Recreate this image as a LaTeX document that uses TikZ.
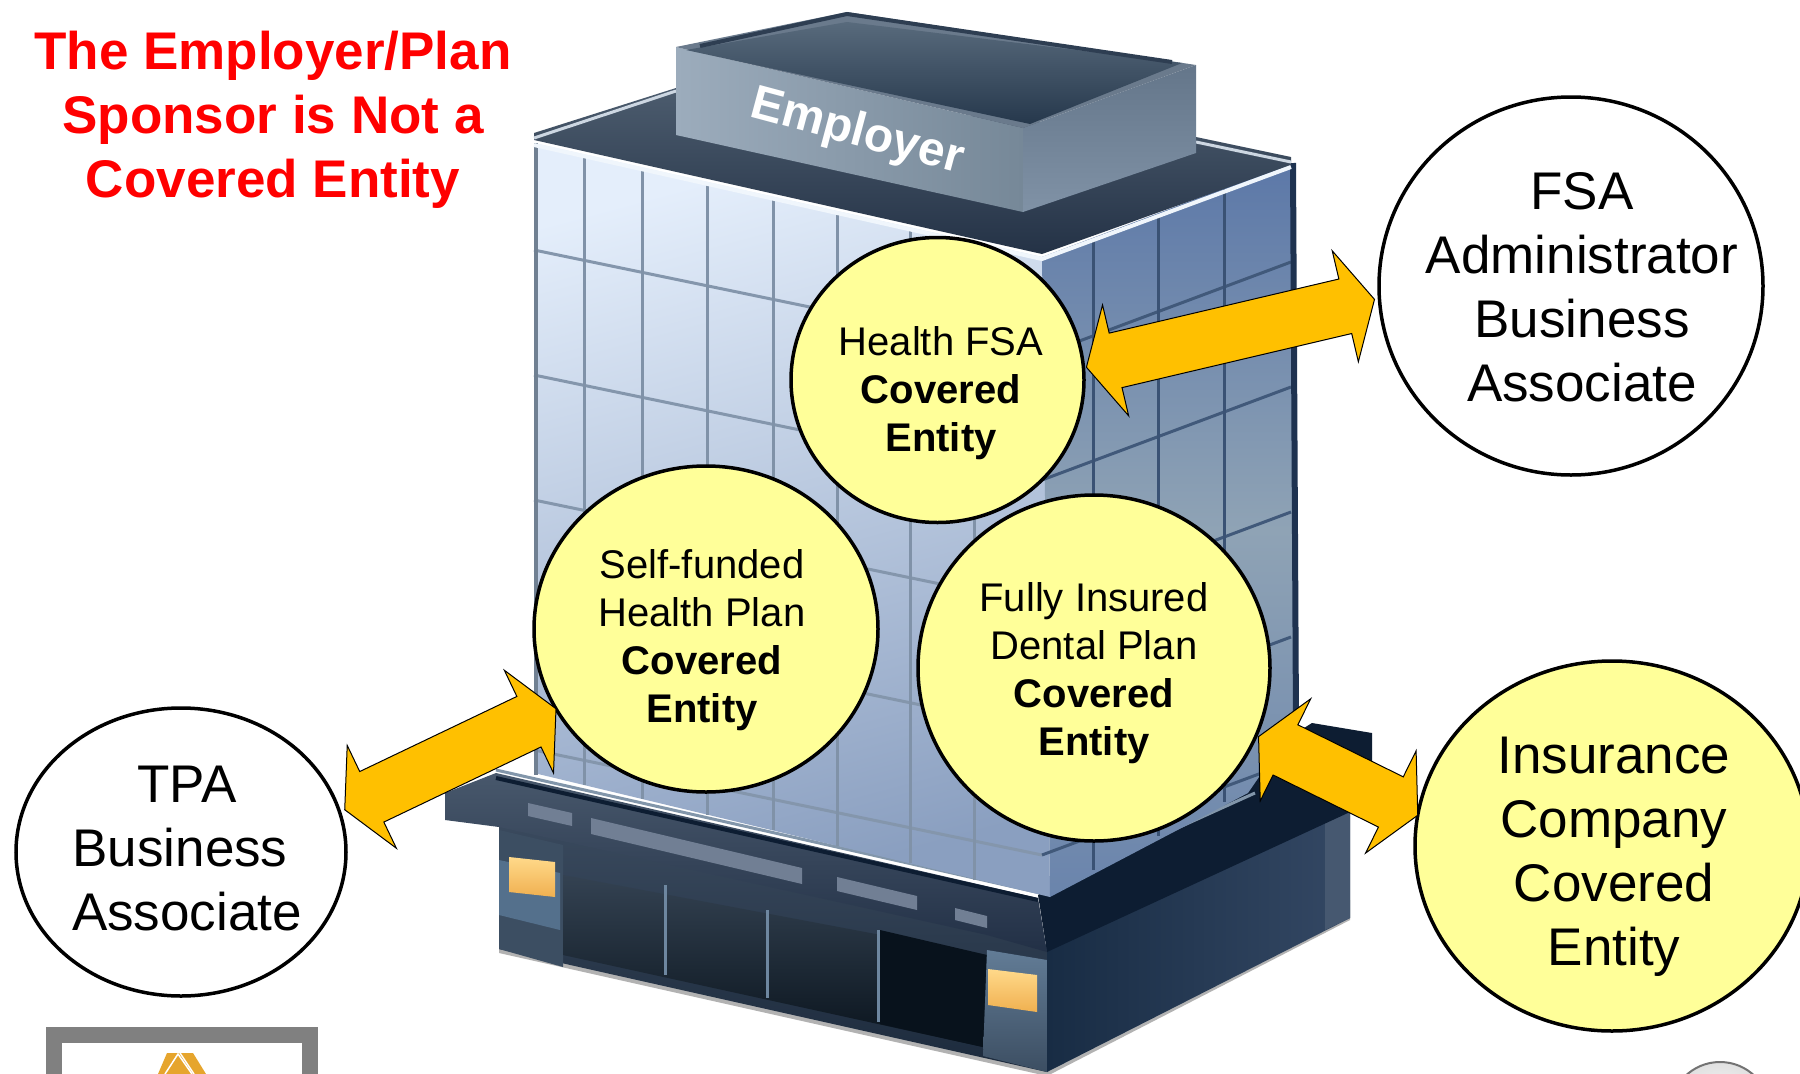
\documentclass[tikz,border=0pt]{standalone}
\usepackage{fontspec}
\setmainfont{Liberation Sans}
\usetikzlibrary{shapes.geometric,calc}
\definecolor{arrowgold}{HTML}{FFC000}
\definecolor{paleyellow}{HTML}{FFFF99}
\definecolor{navyA}{HTML}{3A4A5E}
\definecolor{navyB}{HTML}{1C2A3C}
\definecolor{pilA}{HTML}{54708C}
\definecolor{pilB}{HTML}{3C4E62}
\definecolor{pilC}{HTML}{627C96}
\definecolor{doorA}{HTML}{344252}
\definecolor{doorB}{HTML}{09131C}
\definecolor{doorC}{HTML}{08121C}
\definecolor{mullD}{HTML}{6E87A0}
\definecolor{sideA}{HTML}{182C44}
\definecolor{sideB}{HTML}{344864}
\definecolor{sideC}{HTML}{465870}
\definecolor{ledgeD}{HTML}{0D1D32}
\definecolor{ledgeA}{HTML}{48586C}
\definecolor{ledgeB}{HTML}{223046}
\definecolor{ledgeL}{HTML}{8296AA}
\definecolor{stripeA}{HTML}{717F94}
\definecolor{lampA}{HTML}{FFD98A}
\definecolor{lampB}{HTML}{F0B050}
\definecolor{faceLA}{HTML}{E4EEFB}
\definecolor{faceLB}{HTML}{8A9FC0}
\definecolor{faceRA}{HTML}{5C78A8}
\definecolor{faceRM}{HTML}{8FA3B5}
\definecolor{faceRB}{HTML}{6A84AC}
\definecolor{bandL}{HTML}{8496AC}
\definecolor{bandR}{HTML}{41597A}
\definecolor{mullL}{HTML}{8092A8}
\definecolor{mullR}{HTML}{3A5274}
\definecolor{edgeL}{HTML}{708092}
\definecolor{edgeR}{HTML}{1E3250}
\definecolor{roofA}{HTML}{4C5C6E}
\definecolor{roofB}{HTML}{243246}
\definecolor{roofW}{HTML}{F0F6FC}
\definecolor{roofG}{HTML}{CDD7E2}
\definecolor{penLA}{HTML}{9CACBC}
\definecolor{penLB}{HTML}{768898}
\definecolor{penRA}{HTML}{64768A}
\definecolor{penRB}{HTML}{8092A6}
\definecolor{penT}{HTML}{6A7A8C}
\definecolor{penWA}{HTML}{586A7C}
\definecolor{penWB}{HTML}{26384C}
\definecolor{penE}{HTML}{2E3E52}
\definecolor{frameG}{HTML}{808080}
\definecolor{logoO}{HTML}{E6A52D}
\tikzset{
  x=1pt,y=-1pt,
  bubble/.style={ellipse,draw=black,line width=3.5pt,inner sep=0pt,outer sep=0pt},
  yellowbubble/.style={bubble,fill=paleyellow},
  whitebubble/.style={bubble,fill=white},
  smalltext/.style={align=center,inner sep=0pt,font=\fontsize{40}{48}\selectfont},
  bigtext/.style={align=center,inner sep=0pt,font=\fontsize{53}{64}\selectfont},
  titletext/.style={align=center,inner sep=0pt,text=red,font=\fontsize{53}{64}\selectfont\bfseries},
  bigarrow/.style={draw=black,line width=1pt,fill=arrowgold,line join=miter,miter limit=10},
  mullion/.style={line width=3pt,draw=#1},
  band/.style={line width=3pt,draw=#1},
}
\newcommand{\dblarrow}[2]{%
  \draw[bigarrow] (#1)
  -- ($(#1)!30pt!(#2)!57pt!90:(#2)$)
  -- ($(#1)!30pt!(#2)!28pt!90:(#2)$)
  -- ($(#2)!30pt!(#1)!28pt!-90:(#1)$)
  -- ($(#2)!30pt!(#1)!57pt!-90:(#1)$)
  -- (#2)
  -- ($(#2)!30pt!(#1)!57pt!90:(#1)$)
  -- ($(#2)!30pt!(#1)!28pt!90:(#1)$)
  -- ($(#1)!30pt!(#2)!28pt!-90:(#2)$)
  -- ($(#1)!30pt!(#2)!57pt!-90:(#2)$)
  -- cycle;}
\begin{document}
\begin{tikzpicture}
\useasboundingbox (0,0) rectangle (1800,1074);
\clip (0,0) rectangle (1800,1074);
\fill[white] (0,0) rectangle (1800,1074);

% ---------- base of the building
\fill[black!30] (499,953) -- (1047,1076) -- (1350,920) -- (1350,900) -- (1047,1060) -- (499,935) -- cycle;
\shade[top color=navyA,bottom color=navyB] (499,820) -- (1047,945) -- (1047,1072) -- (499,949) -- cycle;
\fill[pilB] (499,830) -- (563,845) -- (563,967) -- (499,949) -- cycle;
\fill[pilA] (499,860) -- (560,873) -- (560,930) -- (499,915) -- cycle;
\shade[top color=doorA,bottom color=doorB] (563,875) -- (987,955) -- (983,1047) -- (563,955) -- cycle;
\fill[doorC] (880,930) -- (987,955) -- (983,1047) -- (880,1024) -- cycle;
\draw[mullion=mullD] (665,885) -- (665,975);
\draw[mullion=mullD] (767,910) -- (767,998);
\draw[mullion=mullD] (878,930) -- (878,1022);
\shade[top color=pilC,bottom color=pilB] (987,950) -- (1047,960) -- (1047,1072) -- (983,1056) -- cycle;
\shade[left color=sideA,right color=sideB] (1047,945) -- (1350,800) -- (1350,918) -- (1047,1072) -- cycle;
\fill[sideC] (1325,800) -- (1350,800) -- (1350,918) -- (1325,930) -- cycle;
% ledge
\fill[ledgeD] (1038,895) -- (1312,723) -- (1372,733) -- (1372,765) -- (1350,812) -- (1047,952) -- cycle;
\shade[top color=ledgeA,bottom color=ledgeB] (445,793) -- (496,773) -- (1038,898) -- (1047,952) -- (987,935) -- (499,827) -- (445,820) -- cycle;
\draw[line width=4pt,ledgeD] (496,778) -- (1038,900);
\draw[line width=3pt,ledgeL] (496,770) -- (1036,892) -- (1255,793);
\fill[stripeA] (528,803) -- (572,813) -- (572,826) -- (528,816) -- cycle;
\fill[stripeA] (591,818) -- (802,868) -- (802,884) -- (591,834) -- cycle;
\fill[stripeA] (837,877) -- (917,896) -- (917,910) -- (837,891) -- cycle;
\fill[stripeA] (955,908) -- (987,916) -- (987,928) -- (955,920) -- cycle;
% lamps
\shade[top color=lampA,bottom color=lampB] (509,857) -- (555,862) -- (555,897) -- (509,892) -- cycle;
\shade[top color=lampA,bottom color=lampB] (988,969) -- (1037,975) -- (1037,1012) -- (988,1005) -- cycle;

% ---------- tower faces
\shade[top color=faceLA,bottom color=faceLB,shading angle=15] (534,143) -- (1042,257) -- (1050,897) -- (534,773) -- cycle;
\shade[top color=faceRA,bottom color=faceRB,middle color=faceRM] (1042,257) -- (1291,163) -- (1296,723) -- (1248,793) -- (1050,897) -- cycle;
% horizontal bands, left and right
\foreach \k in {0,...,4}{
  \draw[band=bandL] (534,250+125*\k) -- (1042,355+125*\k);
  \draw[band=bandR] (1042,355+125*\k) -- (1291,262+125*\k);
}
% mullions, left face
\foreach \x/\t/\b in {584/155/785,642/168/799,707/183/815,773/198/830,837/212/846,910/228/863,974/242/880}{
  \draw[mullion=mullL] (\x,\t) -- (\x,\b);
}
% mullions, right face
\foreach \x/\t/\b in {1093/238/870,1158/214/836,1224/189/802}{
  \draw[mullion=mullR] (\x,\t) -- (\x,\b);
}
\draw[line width=4pt,edgeL] (536,143) -- (536,775);
\draw[line width=6pt,edgeR] (1293,163) -- (1296,723);

% ---------- roof
\shade[top color=roofA,bottom color=roofB] (534,133) -- (676,88) -- (1196,137) -- (1291,157) -- (1291,165) -- (1042,254) -- (534,140) -- cycle;
\draw[line width=4pt,roofW] (534,145) -- (1042,259) -- (1291,167);
\draw[line width=3pt,roofG] (534,138) -- (676,91);
\draw[line width=3pt,roofG] (1196,142) -- (1291,162);

% ---------- penthouse
\shade[left color=penLA,right color=penLB] (676,47) -- (1023,128) -- (1023,212) -- (676,135) -- cycle;
\shade[top color=penRA,bottom color=penRB] (1023,128) -- (1196,65) -- (1196,153) -- (1023,212) -- cycle;
\fill[penT] (676,47) -- (847,12) -- (1196,65) -- (1023,128) -- cycle;
\shade[top color=penWA,bottom color=penWB] (686,50) -- (847,22) -- (1182,63) -- (1030,124) -- cycle;
\draw[line width=4pt,penE] (700,46) -- (847,14) -- (1172,62);
\node[rotate=-15,text=white,inner sep=0pt,font=\fontsize{48}{54}\selectfont\bfseries] (employer) at (857,133) {Employer};

% ---------- title
\node[titletext] (title) at (273,120) {The Employer/Plan\\Sponsor is Not a\\Covered Entity};

% ---------- bubbles
\node[yellowbubble,minimum width=293pt,minimum height=285pt] (hfsa) at (937.5,380) {};
\node[yellowbubble,minimum width=344pt,minimum height=326pt] (self) at (706,629) {};
\node[yellowbubble,minimum width=352pt,minimum height=346pt] (dental) at (1094,668) {};
\node[whitebubble,minimum width=384pt,minimum height=378pt] (fsa) at (1571,286) {};
\node[yellowbubble,minimum width=394pt,minimum height=370pt] (ins) at (1612,846) {};
\node[whitebubble,minimum width=330pt,minimum height=288pt] (tpa) at (181,852) {};

\node[smalltext] (hfsaT) at (941,393) {Health FSA\\\textbf{Covered}\\\textbf{Entity}};
\node[smalltext] (selfT) at (702,640) {Self-funded\\Health Plan\\\textbf{Covered}\\\textbf{Entity}};
\node[smalltext] (dentalT) at (1094,673) {Fully Insured\\Dental Plan\\\textbf{Covered}\\\textbf{Entity}};
\node[bigtext] (fsaT) at (1582,287) {FSA\\Administrator\\Business\\Associate};
\node[bigtext] (insT) at (1614,857) {Insurance\\Company\\Covered\\Entity};
\node[bigtext] (tpaT) at (187,849) {TPA\\Business\rule{14pt}{0pt}\\Associate};

% ---------- arrows
\coordinate (hfsaTip) at ([xshift=3pt]hfsa.5);
\coordinate (fsaTip) at ([xshift=-5pt]fsa.184);
\coordinate (selfTip) at (self.208);
\coordinate (tpaTip) at ([xshift=6pt]tpa.15);
\coordinate (dentalTip) at ([xshift=3pt]dental.337);
\coordinate (insTip) at (ins.171.5);
\dblarrow{hfsaTip}{fsaTip}
\dblarrow{selfTip}{tpaTip}
\dblarrow{dentalTip}{insTip}

% ---------- logo frame
\draw[line width=16pt,frameG] (54,1095) -- (54,1035) -- (310,1035) -- (310,1095);
\fill[logoO] (167,1053) -- (193,1053) -- (206,1074) -- (158,1074) -- cycle;
\draw[white,line width=1.5pt] (165,1074) -- (178,1054) -- (192,1074);
\draw[white,line width=1.5pt] (180,1053) -- (194,1074);

% ---------- corner disc
\shade[inner color=white,outer color=black!12,draw=black!55,line width=2pt] (1720,1112) circle (50);
\end{tikzpicture}
\end{document}
